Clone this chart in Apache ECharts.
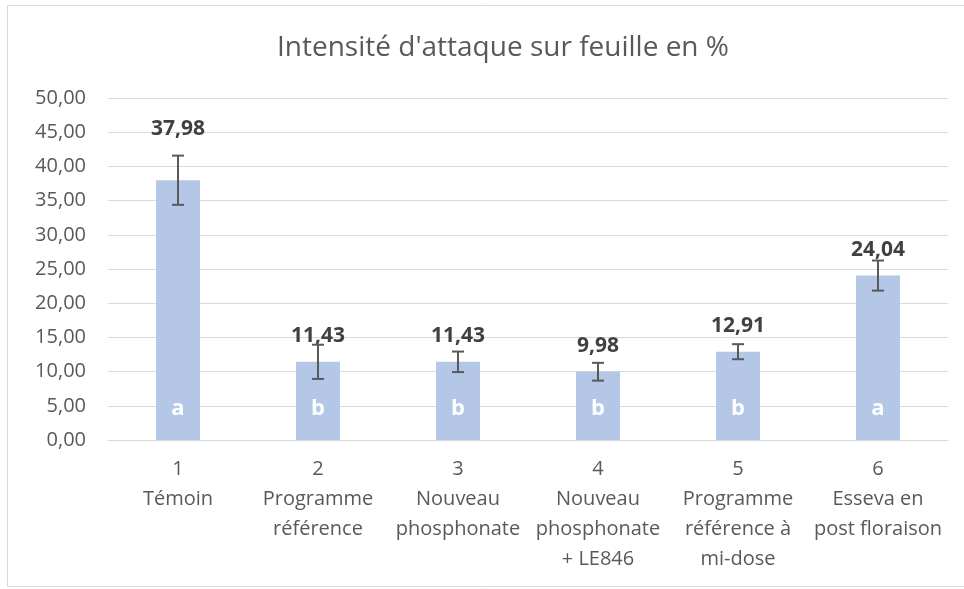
<!DOCTYPE html>
<html>
<head>
<meta charset="utf-8">
<script src="https://cdn.jsdelivr.net/npm/echarts@6/dist/echarts.min.js"></script>
<style>
html,body{margin:0;padding:0;background:#fff;}
#main{width:964px;height:589px;}
</style>
</head>
<body>
<div id="main"></div>
<script>
var categories = ['1\nTémoin', '2\nProgramme\nréférence', '3\nNouveau\nphosphonate', '4\nNouveau\nphosphonate\n+ LE846', '5\nProgramme\nréférence à\nmi-dose', '6\nEsseva en\npost floraison'];
var values = [37.98, 11.43, 11.43, 9.98, 12.91, 24.04];
var errors = [3.6, 2.5, 1.5, 1.3, 1.1, 2.2];
var letters = ['a', 'b', 'b', 'b', 'b', 'a'];
var yTicks = [0, 5, 10, 15, 20, 25, 30, 35, 40, 45, 50];

function fr(v) { return v.toFixed(2).replace('.', ','); }

var FONT = 'Open Sans';
var chart = echarts.init(document.getElementById('main'), null, {renderer: 'canvas'});

var barData = values.map(function (v, i) {
  var item = {value: v};
  if (i === 0) item.label = {distance: 41};
  return item;
});

var errData = values.map(function (v, i) { return [i, v - errors[i], v + errors[i], letters[i]]; });

chart.setOption({
  animation: false,
  graphic: [{
    type: 'rect', shape: {x: 7.5, y: 5.5, width: 980, height: 581}, silent: true,
    style: {fill: 'none', stroke: '#d9d9d9', lineWidth: 1}
  }],
  title: {
    text: "Intensité d'attaque sur feuille en %",
    left: 272, top: 29,
    textStyle: {fontFamily: FONT, fontSize: 28, fontWeight: 'normal', color: '#595959'}
  },
  grid: {left: 108, right: 16, top: 98, bottom: 149, containLabel: false},
  xAxis: {
    type: 'category', data: categories,
    axisLine: {lineStyle: {color: '#d9d9d9', width: 1}},
    axisTick: {show: false},
    axisLabel: {fontFamily: FONT, fontSize: 20, color: '#595959', lineHeight: 30, margin: 14, interval: 0}
  },
  yAxis: {
    type: 'value', min: yTicks[0], max: yTicks[yTicks.length - 1], interval: yTicks[1] - yTicks[0],
    axisLine: {show: false}, axisTick: {show: false},
    splitLine: {lineStyle: {color: '#d9d9d9', width: 1}},
    axisLabel: {fontFamily: FONT, fontSize: 20, color: '#595959', margin: 22, formatter: function (v) { return fr(v); }}
  },
  series: [{
    type: 'bar', data: barData, barWidth: 44,
    itemStyle: {color: '#b4c7e7'},
    label: {show: true, position: 'top', distance: 15, fontFamily: FONT, fontSize: 21, fontWeight: 'bold', color: '#404040',
      formatter: function (p) { return fr(p.value); }}
  }, {
    type: 'custom', data: errData, z: 5,
    renderItem: function (params, api) {
      var idx = api.value(0);
      var lo = api.coord([idx, api.value(1)]);
      var hi = api.coord([idx, api.value(2)]);
      var base = api.coord([idx, 0]);
      var cap = 6;
      var st = {stroke: '#595959', lineWidth: 2};
      return {
        type: 'group', children: [
          {type: 'line', shape: {x1: hi[0], y1: hi[1], x2: lo[0], y2: lo[1]}, style: st},
          {type: 'line', shape: {x1: hi[0] - cap, y1: hi[1], x2: hi[0] + cap, y2: hi[1]}, style: st},
          {type: 'line', shape: {x1: lo[0] - cap, y1: lo[1], x2: lo[0] + cap, y2: lo[1]}, style: st},
          {type: 'text', style: {text: letters[params.dataIndex], x: base[0], y: base[1] - 20, textAlign: 'center', textVerticalAlign: 'bottom',
            fontFamily: FONT, fontSize: 22, fontWeight: 'bold', fill: '#ffffff'}}
        ]
      };
    }
  }]
});
</script>
</body>
</html>
